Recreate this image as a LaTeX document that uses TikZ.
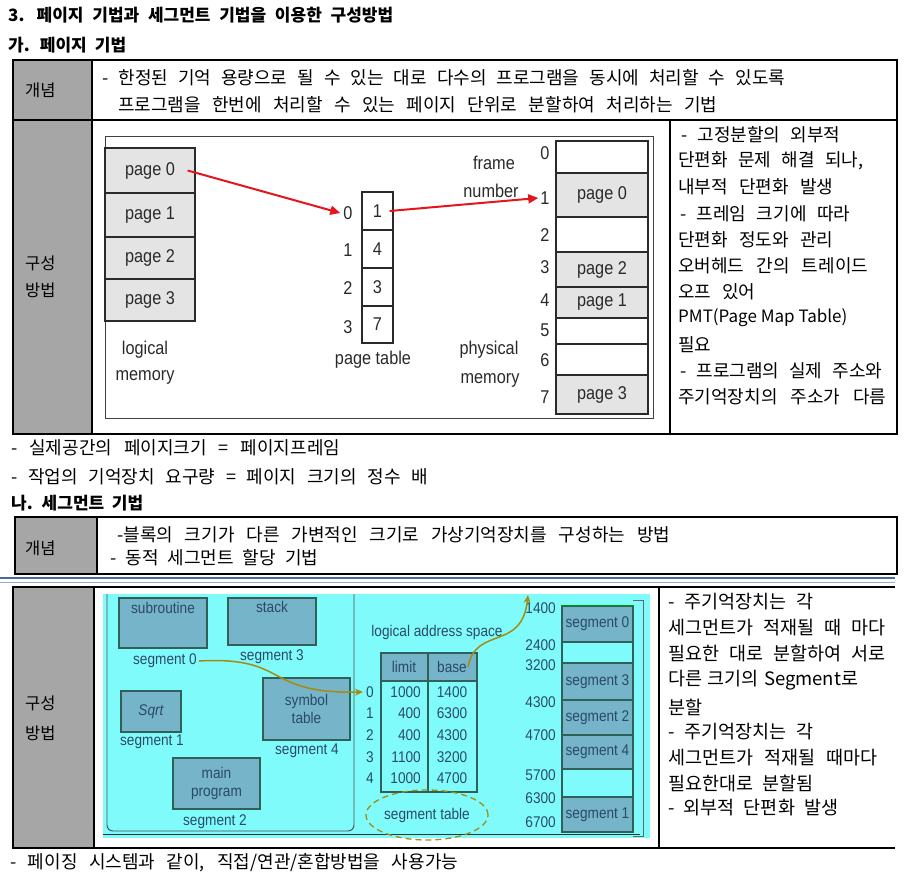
\documentclass[tikz,border=0pt]{standalone}
\usepackage{fontspec}
\newfontfamily\kr{Noto Sans CJK KR}
\newfontfamily\df[FakeStretch=0.88]{Liberation Sans}
\usetikzlibrary{arrows.meta,shapes.geometric}
\definecolor{colgrey}{HTML}{A6A6A6}
\definecolor{pagefill}{HTML}{E4E4E4}
\definecolor{cyanbg}{HTML}{80FBFB}
\definecolor{segfill}{HTML}{76B4CA}
\definecolor{segline}{HTML}{2F6158}
\definecolor{segtext}{HTML}{2A4A66}
\definecolor{oliveln}{HTML}{A38C12}
\definecolor{redarr}{HTML}{E3161C}
\definecolor{dblue}{HTML}{4A6A9C}
\definecolor{ink}{HTML}{2A2A2A}
\newcommand\ks[1]{\kr\fontsize{#1}{#1}\selectfont\spaceskip=0.7em\relax}
\newcommand\dfs[1]{\df\fontsize{#1}{18}\selectfont}
% a Korean line stretched to a measured width
\newcommand\kl[2]{\hbox to #1pt{\spaceskip=0.45em plus 3em minus 0.3em\relax #2}}
\tikzset{
  tx/.style={anchor=west, inner sep=0pt, text=black},
  tline/.style={line width=1.5pt, black},
  lbox/.style={draw=ink, line width=1.3pt, minimum width=90pt, inner sep=0pt, fill=pagefill, font=\dfs{18.5}, text=ink},
  ptcell/.style={draw=ink, line width=1.3pt, minimum width=31pt, inner sep=0pt, fill=white, font=\dfs{18.5}, text=ink},
  pmbox/.style={draw=ink, line width=1.3pt, minimum width=92pt, inner sep=0pt, font=\dfs{18.5}, text=ink},
  dlab/.style={inner sep=0pt, font=\dfs{18.5}, text=ink},
  sbox/.style={draw=segline, line width=1.6pt, fill=segfill, inner sep=0pt, font=\dfs{15.5}, text=segtext, align=center},
  slab/.style={inner sep=0pt, font=\dfs{15.5}, text=segtext},
  mseg/.style={draw=segline, line width=1.3pt, minimum width=71pt, inner sep=0pt, font=\dfs{15.5}, text=segtext},
  redarrow/.style={redarr, line width=2pt, -{Triangle[length=10pt,width=9pt]}},
  oarr/.style={oliveln, line width=1.5pt, -{Stealth[length=8pt,width=7pt]}},
  hd/.style={tx, font=\ks{17}\bfseries},
  cl/.style={tx, font=\ks{16.5}},
  kc/.style={tx, font=\ks{18}},
  kt/.style={tx, font=\ks{18}},
  kr1/.style={tx, font=\ks{18}},
  kr3/.style={tx, font=\ks{18.5}}
}
\begin{document}
\begin{tikzpicture}[x=1pt,y=-1pt]
\useasboundingbox (0,0) rectangle (913,893);
\fill[white] (0,0) rectangle (913,893);

% headings
\node[hd] (title) at (8,15) {\kl{385}{3. 페이지 기법과 세그먼트 기법을 이용한 구성방법}};
\node[hd] (ga) at (8,45) {\kl{118}{가. 페이지 기법}};

% table 1
\fill[colgrey] (13,60) rectangle (92,434);
\draw[tline] (13,60) rectangle (897,434);
\draw[tline] (92,60) -- (92,434);
\draw[tline] (13,120) -- (897,120);
\draw[tline] (670,120) -- (670,434);
\node[cl] (c1) at (25,90) {개념};
\node[cl] (m1a) at (25,263) {구성};
\node[cl] (m1b) at (25,290) {방법};
\node[kc] (c1l1) at (102,78) {\kl{683}{- 한정된 기억 용량으로 될 수 있는 대로 다수의 프로그램을 동시에 처리할 수 있도록}};
\node[kc] (c1l2) at (118,105) {\kl{599}{프로그램을 한번에 처리할 수 있는 페이지 단위로 분할하여 처리하는 기법}};

% paging picture
\draw[black!75, line width=0.8pt] (105,136) rectangle (653,418);
\node[lbox, minimum height=45pt] (lp0) at (150,170.5) {page 0};
\node[lbox, minimum height=44pt] (lp1) at (150,215) {page 1};
\node[lbox, minimum height=42pt] (lp2) at (150,258) {page 2};
\node[lbox, minimum height=42pt] (lp3) at (150,300) {page 3};
\node[dlab] (lml1) at (145,350) {logical};
\node[dlab] (lml2) at (145,377) {memory};

\node[ptcell, minimum height=38pt] (pt0) at (377.5,211) {1};
\node[ptcell, minimum height=38pt] (pt1) at (377.5,249) {4};
\node[ptcell, minimum height=38pt] (pt2) at (377.5,287) {3};
\node[ptcell, minimum height=37pt] (pt3) at (377.5,324.5) {7};
\node[dlab] (pi0) at (348,213) {0};
\node[dlab] (pi1) at (348,250) {1};
\node[dlab] (pi2) at (348,288) {2};
\node[dlab] (pi3) at (348,327) {3};
\node[dlab] (ptl) at (373,360) {page table};

\node[pmbox, minimum height=32pt, fill=white] (f0) at (602,157) {};
\node[pmbox, minimum height=44pt, fill=pagefill] (f1) at (602,195) {page 0};
\node[pmbox, minimum height=35pt, fill=white] (f2) at (602,234.5) {};
\node[pmbox, minimum height=35pt, fill=pagefill] (f3) at (602,269.5) {page 2};
\node[pmbox, minimum height=31pt, fill=pagefill] (f4) at (602,302.5) {page 1};
\node[pmbox, minimum height=26pt, fill=white] (f5) at (602,331) {};
\node[pmbox, minimum height=31pt, fill=white] (f6) at (602,359.5) {};
\node[pmbox, minimum height=39pt, fill=pagefill] (f7) at (602,394.5) {page 3};
\node[dlab] (fn0) at (545,153) {0};
\node[dlab] (fn1) at (545,198) {1};
\node[dlab] (fn2) at (545,235) {2};
\node[dlab] (fn3) at (545,267) {3};
\node[dlab] (fn4) at (545,300) {4};
\node[dlab] (fn5) at (545,330) {5};
\node[dlab] (fn6) at (545,360) {6};
\node[dlab] (fn7) at (545,397) {7};
\node[dlab] (frl1) at (494,163) {frame};
\node[dlab] (frl2) at (491,191) {number};
\node[dlab] (phl1) at (489,350) {physical};
\node[dlab] (phl2) at (490,380) {memory};

\draw[redarrow] ([xshift=-8pt]lp0.east) -- ([xshift=-3pt]pi0.west);
\draw[redarrow] ([xshift=-4pt]pt0.east) -- ([xshift=-2pt]fn1.west);

% right column table 1
\node[kr1] (r1) at (681,135) {\kl{159}{- 고정분할의 외부적}};
\node[kr1] (r2) at (678,161) {\kl{185}{단편화 문제 해결 되나,}};
\node[kr1] (r3) at (678,187) {\kl{155}{내부적 단편화 발생}};
\node[kr1] (r4) at (680,214) {\kl{170}{- 프레임 크기에 따라}};
\node[kr1] (r5) at (678,240) {\kl{155}{단편화 정도와 관리}};
\node[kr1] (r6) at (678,266) {\kl{190}{오버헤드 간의 트레이드}};
\node[kr1] (r7) at (678,292) {\kl{77}{오프 있어}};
\node[tx, font=\kr\fontsize{17}{17}\selectfont] (r8) at (678,318) {PMT(Page Map Table)};
\node[kr1] (r9) at (678,345) {필요};
\node[kr1] (r10) at (680,371) {\kl{202}{- 프로그램의 실제 주소와}};
\node[kr1] (r11) at (678,397) {\kl{208}{주기억장치의 주소가 다름}};

% notes
\node[kt] (n1) at (11,448) {\kl{329}{- 실제공간의 페이지크기 = 페이지프레임}};
\node[kt] (n2) at (11,477) {\kl{417}{- 작업의 기억장치 요구량 = 페이지 크기의 정수 배}};
\node[hd] (na) at (11,503) {\kl{132}{나. 세그먼트 기법}};

% table 2
\fill[colgrey] (15,517) rectangle (97,574);
\draw[tline] (15,517) rectangle (897,574);
\draw[tline] (97,517) -- (97,574);
\node[cl] (c2) at (25,548) {개념};
\node[kt] (c2l1) at (117,535) {\kl{553}{-블록의 크기가 다른 가변적인 크기로 가상기억장치를 구성하는 방법}};
\node[kt] (c2l2) at (110,558) {\kl{208}{- 동적 세그먼트 할당 기법}};

\draw[dblue, line width=1.3pt] (0,578) -- (895,578);
\draw[dblue!55, line width=1.1pt] (0,582.5) -- (895,582.5);

% table 3
\fill[colgrey] (13,587) rectangle (94,848);
\draw[tline] (895,587) -- (13,587) -- (13,848) -- (895,848);
\draw[tline] (94,587) -- (94,848);
\draw[tline] (659,587) -- (659,848);
\node[cl] (m3a) at (25,703) {구성};
\node[cl] (m3b) at (25,733) {방법};

% segmentation picture
\fill[cyanbg] (103,594) rectangle (650,838);
\draw[black!70, line width=0.9pt, rounded corners=6pt] (107,594) -- (107,831) -- (354,831) -- (354,594);
\draw[black!80, line width=1pt] (103,834) -- (640,834);
\draw[black!60, line width=0.9pt] (633,600) -- (643,600) -- (643,836) -- (633,836);

\node[sbox, minimum width=88pt, minimum height=50pt] (sub) at (163,623) {subroutine\\[12pt]};
\node[sbox, minimum width=88pt, minimum height=47pt] (stk) at (272,621.5) {stack\\[12pt]};
\node[sbox, minimum width=60pt, minimum height=41pt] (sqt) at (151,711.5) {\itshape Sqrt};
\node[sbox, minimum width=87pt, minimum height=62pt] (sym) at (306.5,709) {symbol\\table};
\node[sbox, minimum width=87pt, minimum height=51pt] (mpr) at (216.5,783.5) {main\\program};
\node[slab] (s0l) at (165,661) {segment 0};
\node[slab] (s3l) at (272,657) {segment 3};
\node[slab] (s1l) at (152,742) {segment 1};
\node[slab] (s4l) at (307,751) {segment 4};
\node[slab] (s2l) at (215,822) {segment 2};

\node[slab] (las) at (437,632) {logical address space};
\fill[segfill] (381,653) rectangle (477,681);
\draw[segline, line width=1.4pt] (381,653) rectangle (477,792);
\draw[segline, line width=1.4pt] (381,681) -- (477,681);
\draw[segline, line width=1.4pt] (428,653) -- (428,792);
\node[slab] (lh) at (404,667) {limit};
\node[slab] (bh) at (452,667) {base};
\node[slab] (ix0) at (370,692) {0};
\node[slab] (ix1) at (370,713) {1};
\node[slab] (ix2) at (370,735) {2};
\node[slab] (ix3) at (370,757) {3};
\node[slab] (ix4) at (370,778) {4};
\node[slab, anchor=east] (lm0) at (421,692) {1000};
\node[slab, anchor=east] (lm1) at (421,713) {400};
\node[slab, anchor=east] (lm2) at (421,735) {400};
\node[slab, anchor=east] (lm3) at (421,757) {1100};
\node[slab, anchor=east] (lm4) at (421,778) {1000};
\node[slab] (bs0) at (452,692) {1400};
\node[slab] (bs1) at (452,713) {6300};
\node[slab] (bs2) at (452,735) {4300};
\node[slab] (bs3) at (452,757) {3200};
\node[slab] (bs4) at (452,778) {4700};
\node[draw=oliveln, dash pattern=on 6pt off 4pt, line width=1.3pt, ellipse, minimum width=122pt, minimum height=50pt, inner sep=0pt, font=\dfs{15.5}, text=segtext] (st) at (427,815) {segment table};

\node[mseg, minimum height=36pt, fill=segfill] (m0) at (597.5,624) {segment 0};
\node[mseg, minimum height=21pt, fill=cyanbg] (me1) at (597.5,652.5) {};
\node[mseg, minimum height=37pt, fill=segfill] (m3) at (597.5,681.5) {segment 3};
\node[mseg, minimum height=35pt, fill=segfill] (m2) at (597.5,717.5) {segment 2};
\node[mseg, minimum height=34pt, fill=segfill] (m4) at (597.5,752) {segment 4};
\node[mseg, minimum height=28pt, fill=cyanbg] (me2) at (597.5,783) {};
\node[mseg, minimum height=35pt, fill=segfill] (m1) at (597.5,814.5) {segment 1};
\draw[green!60!black, line width=1.2pt] (m0.north west) -- (m0.north east);
\node[slab, anchor=east] (a1) at (556,608) {1400};
\node[slab, anchor=east] (a2) at (556,645) {2400};
\node[slab, anchor=east] (a3) at (556,665) {3200};
\node[slab, anchor=east] (a4) at (556,702) {4300};
\node[slab, anchor=east] (a5) at (556,735) {4700};
\node[slab, anchor=east] (a6) at (556,775) {5700};
\node[slab, anchor=east] (a7) at (556,798) {6300};
\node[slab, anchor=east] (a8) at (556,822) {6700};

\coordinate (segtop) at (528,595);
\draw[oarr] ([xshift=2pt]s0l.east) .. controls (290,656) and (262,694) .. ([xshift=-3pt]ix0.west);
\draw[oarr] ([xshift=1pt]bh.east) .. controls (476,625) and (522,652) .. (segtop);

% right column table 3
\node[kr3] (q1) at (668,602) {\kl{145}{- 주기억장치는 각}};
\node[kr3] (q2) at (668,628) {\kl{217}{세그먼트가 적재될 때 마다}};
\node[kr3] (q3) at (668,653) {\kl{217}{필요한 대로 분할하여 서로}};
\node[kr3] (q4) at (668,680) {\kl{190}{다른 크기의 Segment로}};
\node[kr3] (q5) at (668,707) {분할};
\node[kr3] (q6) at (668,732) {\kl{145}{- 주기억장치는 각}};
\node[kr3] (q7) at (668,758) {\kl{209}{세그먼트가 적재될 때마다}};
\node[kr3] (q8) at (668,783) {\kl{145}{필요한대로 분할됨}};
\node[kr3] (q9) at (668,808) {\kl{170}{- 외부적 단편화 발생}};

\node[kt] (last) at (10,863) {\kl{448}{- 페이징 시스템과 같이, 직접/연관/혼합방법을 사용가능}};
\end{tikzpicture}
\end{document}
